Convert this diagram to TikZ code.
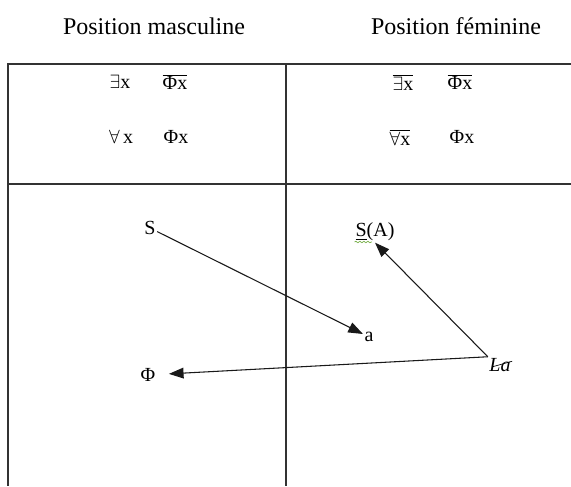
\documentclass[tikz,border=0pt]{standalone}
\usepackage{fontspec}
\setmainfont{Liberation Serif}
\usetikzlibrary{arrows.meta, positioning, decorations.pathmorphing}
\definecolor{trait}{gray}{0.2}
\definecolor{vert}{RGB}{110,170,60}
\newcommand{\barre}[1]{$\overline{\mbox{#1}}$}

\begin{document}
\begin{tikzpicture}[x=0.75pt,y=-0.75pt,
		titre/.style={font=\fontsize{18}{21}\selectfont},
		formule/.style={font=\fontsize{15}{17}\selectfont, inner sep=1pt},
		fleche/.style={-{Triangle[length=11pt,width=8pt]}, line width=0.8pt, black!90},
		cadre/.style={line width=1.1pt, trait}]
				\useasboundingbox (0,0) rectangle (571,486);
				% tableau
				\draw[cadre] (571,64) -- (8,64) -- (8,486);
				\draw[cadre] (8,184) -- (571,184);
				\draw[cadre] (286,64) -- (286,486);
				% titres
				\node[titre] (masc) at (154,26) {Position masculine};
				\node[titre] (fem) at (456,26) {Position féminine};
				% formules : position masculine
				\node[formule] (exm) at (120,82) {$\exists$x};
				\node[formule] (phibm) at (175,82) {\barre{Φx}};
				\node[formule] (pourm) at (121,137) {$\forall$\,x};
				\node[formule] (phim) at (176,137) {Φx};
				% formules : position féminine
				\node[formule] (exf) at (403,82) {\barre{$\exists$x}};
				\node[formule] (phibf) at (460,82) {\barre{Φx}};
				\node[formule] (pourf) at (400,137) {\barre{$\forall$x}};
				\node[formule] (phif) at (462,137) {Φx};
				% schéma
				\node[formule] (s) at (150,228) {S};
				\node[formule] (a) at (369,337) {a};
				\node[formule] (sa) at (375,232) {\underline{S}(A)};
				\node[formule] (la) at (500,365) {\textit{La}};
				\node[formule] (phi) at (148,375) {Φ};
				\draw[fleche] (s) -- (a);
				\draw[fleche] (la.north west) -- (sa.south);
				\draw[fleche, shorten >=9pt] (la.north west) -- (phi);
				% barre sur La
				\draw[line width=0.5pt] ([shift={(4pt,5pt)}]la.south west) -- ([shift={(0pt,9pt)}]la.south east);
				% soulignement du correcteur
				\draw[vert, line width=0.5pt, decorate, decoration={snake, amplitude=0.6pt, segment length=3pt}]
				([shift={(0.5pt,0.5pt)}]sa.south west) -- +(13pt,0);
			\end{tikzpicture}
\end{document}
